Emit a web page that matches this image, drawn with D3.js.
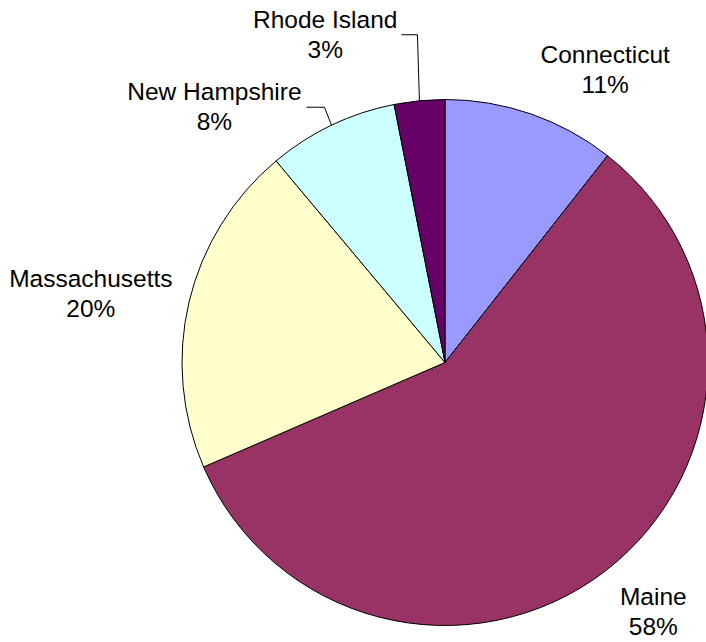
<!DOCTYPE html>
<html>
<head>
<meta charset="utf-8">
<script src="https://cdn.jsdelivr.net/npm/d3@7/dist/d3.min.js"></script>
<style>
  html, body { margin: 0; padding: 0; background: #ffffff; }
  svg { display: block; }
  text { font-family: "Liberation Sans", Arial, sans-serif; fill: #000; }
</style>
</head>
<body>
<svg id="chart" width="706" height="642"></svg>
<script>
// ---- Data ----
const states = ["Connecticut", "Maine", "Massachusetts", "New Hampshire", "Rhode Island"];
const shares = [10.6, 57.9, 20.4, 8.0, 3.1];
const colors = ["#9999FF", "#993366", "#FFFFCC", "#CCFFFF", "#660066"];

// ---- Layout ----
const W = 706, H = 642;
const cx = 445, cy = 362.5, R = 263;
const fontSize = 24.5, lineGap = 30;
// labels moved out with leader lines: offsets of elbow from the slice edge, then horizontal run
const leaders = {
  "New Hampshire": { ex: -7, ey: -18, run: 18, gap: 5 },
  "Rhode Island":  { ex: -2, ey: -66, run: 16, gap: 4 }
};

const data = states.map((s, i) => ({ state: s, value: shares[i], color: colors[i] }));
const total = d3.sum(shares);

const svg = d3.select("#chart");
const g = svg.append("g").attr("transform", `translate(${cx},${cy})`);

const pie = d3.pie().sort(null).value(d => d.value).startAngle(0).endAngle(2 * Math.PI);
const arcs = pie(data);
const arc = d3.arc().innerRadius(0).outerRadius(R);

g.selectAll("path.slice")
  .data(arcs)
  .join("path")
  .attr("class", "slice")
  .attr("d", arc)
  .attr("fill", d => d.data.color)
  .attr("stroke", "#000")
  .attr("stroke-width", 1)
  .attr("stroke-linejoin", "round");

function pct(v) { return Math.round(v / total * 100) + "%"; }

function drawLabel(d, x, y) {
  // x: centre of block, y: vertical middle of block
  const lg = g.append("g");
  lg.append("text").attr("x", x).attr("y", y - 7).attr("text-anchor", "middle")
    .style("font-size", fontSize + "px").text(d.data.state);
  lg.append("text").attr("x", x).attr("y", y - 7 + lineGap).attr("text-anchor", "middle")
    .style("font-size", fontSize + "px").text(pct(d.data.value));
  return lg;
}

function blockWidth(d) {
  const t = g.append("text").style("font-size", fontSize + "px").text(d.data.state);
  const w1 = t.node().getComputedTextLength();
  t.text(pct(d.data.value));
  const w2 = t.node().getComputedTextLength();
  t.remove();
  return Math.max(w1, w2);
}

const blockH = 48;
const pad = 4;

arcs.forEach(d => {
  const a = (d.startAngle + d.endAngle) / 2;
  const dx = Math.sin(a), dy = -Math.cos(a);
  const w = blockWidth(d);
  const L = leaders[d.data.state];
  if (L) {
    const ex = R * dx, ey = R * dy;
    const bx = ex + L.ex, by = ey + L.ey;
    const endX = bx - L.run;
    g.append("path")
      .attr("d", d3.line()([[endX, by], [bx, by], [ex, ey]]))
      .attr("fill", "none").attr("stroke", "#000").attr("stroke-width", 1);
    const right = endX - L.gap;
    drawLabel(d, right - w / 2, by);
  } else {
    const rr = R + 17;
    const px = rr * dx, py = rr * dy;
    const sx = Math.abs(dx) < 0.3 ? 0 : Math.sign(dx);
    const sy = Math.abs(dy) < 0.3 ? 0 : Math.sign(dy);
    const side = sy === 0;
    const mx = px + sx * ((side ? 0 : pad) + w / 2);
    const my = side ? py - 4 : py + sy * (pad + blockH / 2);
    drawLabel(d, mx, my);
  }
});
</script>
</body>
</html>
